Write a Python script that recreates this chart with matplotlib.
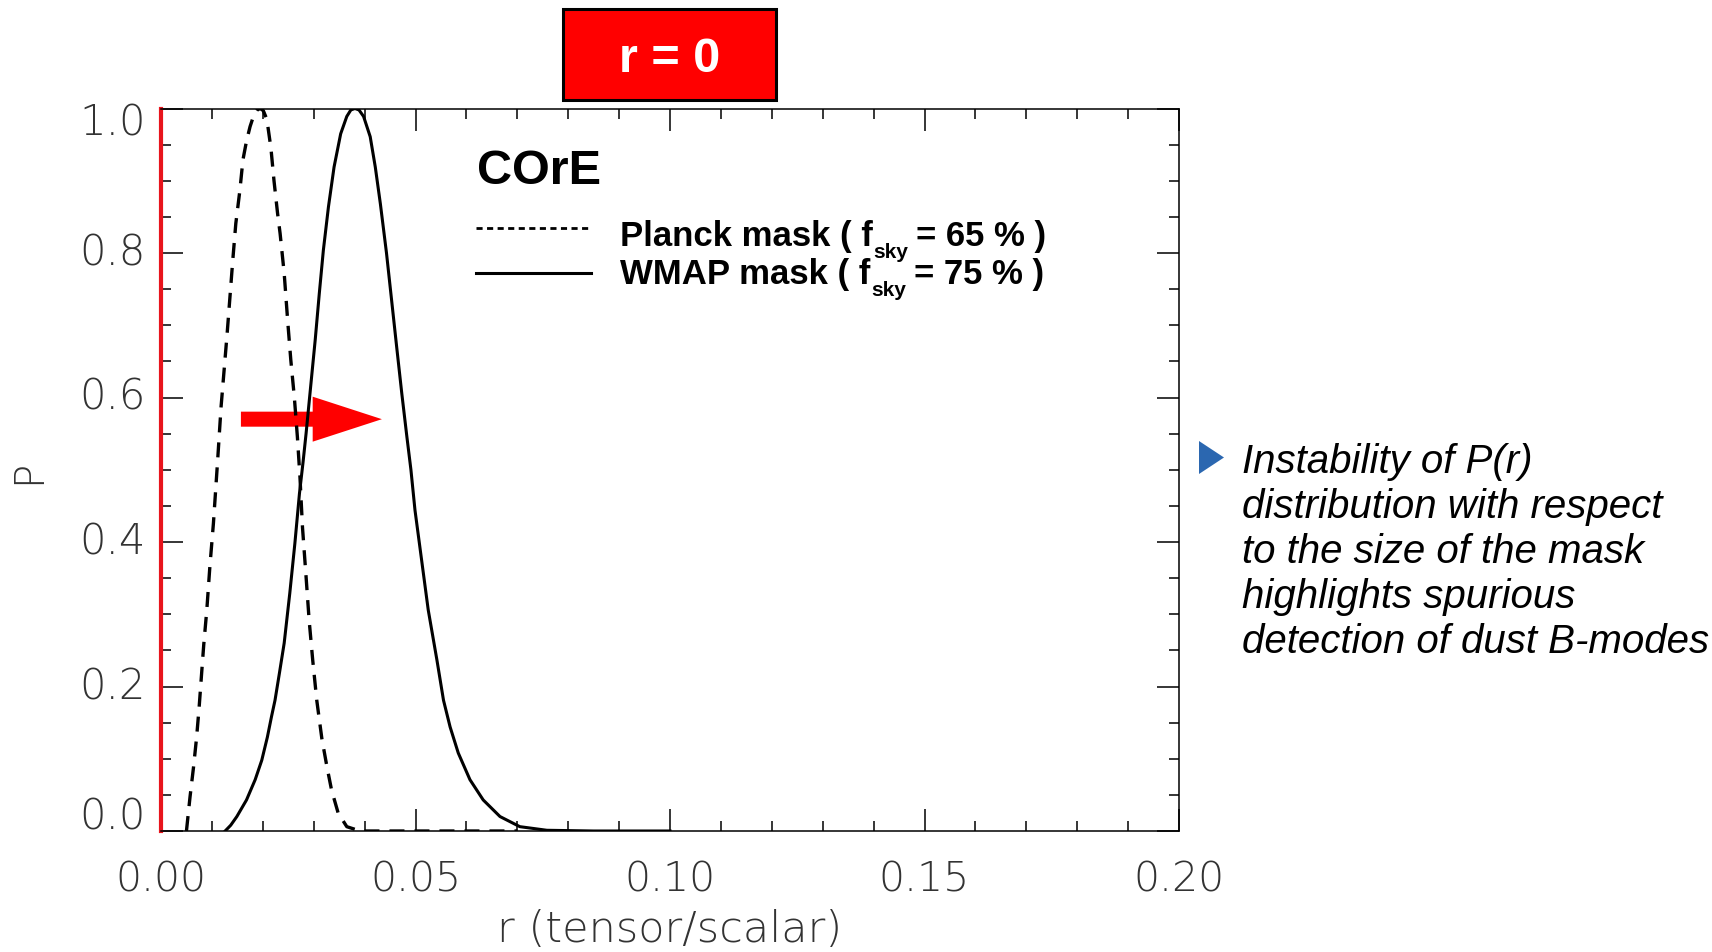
import numpy as np
import matplotlib
matplotlib.use("Agg")
import matplotlib.pyplot as plt
from matplotlib.patches import Rectangle, Polygon

# P(r), Planck mask (dashed)
planck_r = [0.0050, 0.0057, 0.0064, 0.0070, 0.0075, 0.0080, 0.0084, 0.0090,
            0.0096, 0.0103, 0.0111, 0.0118, 0.0124, 0.0130, 0.0136, 0.0141,
            0.0147, 0.0155, 0.0161, 0.0168, 0.0175, 0.0182, 0.0189, 0.0195,
            0.0201, 0.0208, 0.0216, 0.0222, 0.0229, 0.0234, 0.0242, 0.0249,
            0.0255, 0.0262, 0.0268, 0.0273, 0.0278, 0.0285, 0.0291, 0.0298,
            0.0306, 0.0316, 0.0326, 0.0335, 0.0348, 0.0365, 0.0391, 0.0500,
            0.0600, 0.0700]
planck_p = [0.000, 0.047, 0.089, 0.130, 0.172, 0.220, 0.258, 0.306,
            0.366, 0.426, 0.510, 0.587, 0.638, 0.689, 0.744, 0.790,
            0.841, 0.887, 0.929, 0.955, 0.975, 0.990, 0.998, 1.000,
            0.997, 0.985, 0.945, 0.900, 0.855, 0.827, 0.772, 0.705,
            0.652, 0.600, 0.545, 0.490, 0.420, 0.352, 0.292, 0.237,
            0.181, 0.128, 0.089, 0.057, 0.025, 0.006, 0.000, 0.000,
            0.000, 0.000]

# WMAP mask (solid)
wmap_r = [0.0126, 0.0137, 0.0149, 0.0168, 0.0185, 0.0198, 0.0209, 0.0217,
          0.0224, 0.0233, 0.0242, 0.0253, 0.0263, 0.0272, 0.0279, 0.0285,
          0.0294, 0.0303, 0.0311, 0.0319, 0.0329, 0.0340, 0.0353, 0.0365,
          0.0373, 0.0381, 0.0389, 0.0398, 0.0411, 0.0421, 0.0431, 0.0443,
          0.0453, 0.0463, 0.0473, 0.0483, 0.0491, 0.0499, 0.0512, 0.0525,
          0.0542, 0.0555, 0.0568, 0.0584, 0.0607, 0.0633, 0.0666, 0.0705,
          0.0758, 0.0850, 0.1000]
wmap_p = [0.000, 0.008, 0.020, 0.043, 0.071, 0.098, 0.130, 0.158,
          0.181, 0.220, 0.260, 0.329, 0.398, 0.467, 0.510, 0.550,
          0.615, 0.680, 0.744, 0.804, 0.864, 0.919, 0.965, 0.989,
          0.998, 1.000, 0.998, 0.989, 0.961, 0.919, 0.868, 0.800,
          0.735, 0.670, 0.606, 0.546, 0.500, 0.444, 0.375, 0.306,
          0.237, 0.181, 0.144, 0.108, 0.071, 0.043, 0.020, 0.006,
          0.001, 0.000, 0.000]

x_ticks = [0.00, 0.05, 0.10, 0.15, 0.20]
x_tick_labels = ["0.00", "0.05", "0.10", "0.15", "0.20"]
y_ticks = [0.0, 0.2, 0.4, 0.6, 0.8, 1.0]
y_tick_labels = ["0.0", "0.2", "0.4", "0.6", "0.8", "1.0"]

legend_heads = ["Planck mask ( f", "WMAP mask ( f"]
legend_tails = ["= 65 % )", "= 75 % )"]
note_lines = ["Instability of P(r)",
              "distribution with respect",
              "to the size of the mask",
              "highlights spurious",
              "detection of dust B-modes"]

W, H = 1712, 952
fig = plt.figure(figsize=(W / 100, H / 100), dpi=100)
ax = fig.add_axes([161 / W, 1 - 831 / H, 1018 / W, 722.5 / H])

ax.plot(planck_r, planck_p, color="black", lw=2.4, dashes=(4.5, 3.0),
        solid_capstyle="butt")
ax.plot(wmap_r, wmap_p, color="black", lw=2.2)

ax.set_xlim(0, 0.2)
ax.set_ylim(0, 1)

# frame + ticks, IDL style
for s in ax.spines.values():
    s.set_linewidth(1.1)
ax.spines["left"].set_color("#e8141c")
ax.spines["left"].set_linewidth(3)
ax.set_xticks(x_ticks)
ax.set_xticklabels(x_tick_labels)
ax.set_xticks(np.arange(0, 0.2001, 0.01), minor=True)
ax.set_yticks(y_ticks)
ax.set_yticklabels([])
ax.set_yticks(np.arange(0, 1.0001, 0.05), minor=True)
ax.tick_params(which="both", direction="in", top=True, right=True, width=1.1)
ax.tick_params(which="major", length=16)
ax.tick_params(which="minor", length=7)
ax.tick_params(axis="x", which="major", pad=21, labelsize=29.5,
               labelcolor="#333333")
for lab in ax.get_xticklabels():
    lab.set_fontweight("light")

# y tick labels, the end ones pulled inward like the original
shifts = {0.0: 10, 1.0: -10.5}
for v, s in zip(y_ticks, y_tick_labels):
    ax.annotate(s, xy=(0, v), xycoords=("axes fraction", "data"),
                xytext=(-11, shifts.get(v, 0)), textcoords="offset points",
                ha="right", va="center", fontsize=30, color="#333333",
                fontweight="light", annotation_clip=False)

ax.set_xlabel("r (tensor/scalar)", fontsize=31, color="#333333",
              fontweight="light", va="center")
ax.xaxis.set_label_coords(0.5, -0.137)
ax.set_ylabel("P", fontsize=29, color="#333333", fontweight="light",
              va="center")
ax.yaxis.set_label_coords(-0.1297, 0.497)

# title + legend inside
ax.text(0.3104, 0.8950, "COrE", transform=ax.transAxes, fontsize=35,
        fontweight="bold", family="Liberation Sans", va="baseline")
ax.plot([0.3094, 0.4224], [0.8346, 0.8346], transform=ax.transAxes,
        color="black", lw=2.0, dashes=(2.2, 1.6))
ax.plot([0.3094, 0.4224], [0.7723, 0.7723], transform=ax.transAxes,
        color="black", lw=2.2)
font = dict(fontweight="bold", family="Liberation Sans", va="baseline")
for head, tail, yb in zip(legend_heads, legend_tails, [0.8102, 0.7573]):
    t1 = ax.text(0.4509, yb, head, transform=ax.transAxes, fontsize=25,
                 **font)
    t2 = ax.annotate("sky", xy=(1, yb), xycoords=(t1, ax.transAxes),
                     xytext=(0.5, -8.7), textcoords="offset points",
                     fontsize=15, **font)
    ax.annotate(tail, xy=(1, yb), xycoords=(t2, ax.transAxes),
                xytext=(5.5, 0), textcoords="offset points",
                fontsize=25, **font)

# red arrow
ax.arrow(0.0157, 0.570, 0.0434 - 0.0157, 0, width=0.0208,
         head_width=0.0623, head_length=0.0136, length_includes_head=True,
         color="#ff0000", lw=0)

# red r = 0 box
fig.patches.append(Rectangle((563 / W, 1 - 100 / H), 213 / W, 91 / H,
                             transform=fig.transFigure, facecolor="#ff0000",
                             edgecolor="black", lw=2.2))
fig.text(669.5 / W, 1 - 72 / H, "r = 0", color="white", fontsize=35,
         fontweight="bold", family="Liberation Sans", ha="center",
         va="baseline")

# bullet note on the right
fig.patches.append(Polygon([(1199 / W, 1 - 441 / H), (1199 / W, 1 - 474 / H),
                            (1224 / W, 1 - 457.5 / H)], closed=True,
                           transform=fig.transFigure, facecolor="#2b67b0",
                           edgecolor="none"))
for i, line in enumerate(note_lines):
    fig.text(1242 / W, 1 - (472.7 + 45 * i) / H, line, fontsize=29,
             style="italic", family="Liberation Sans", va="baseline")

fig.savefig("out.png", dpi=100)
